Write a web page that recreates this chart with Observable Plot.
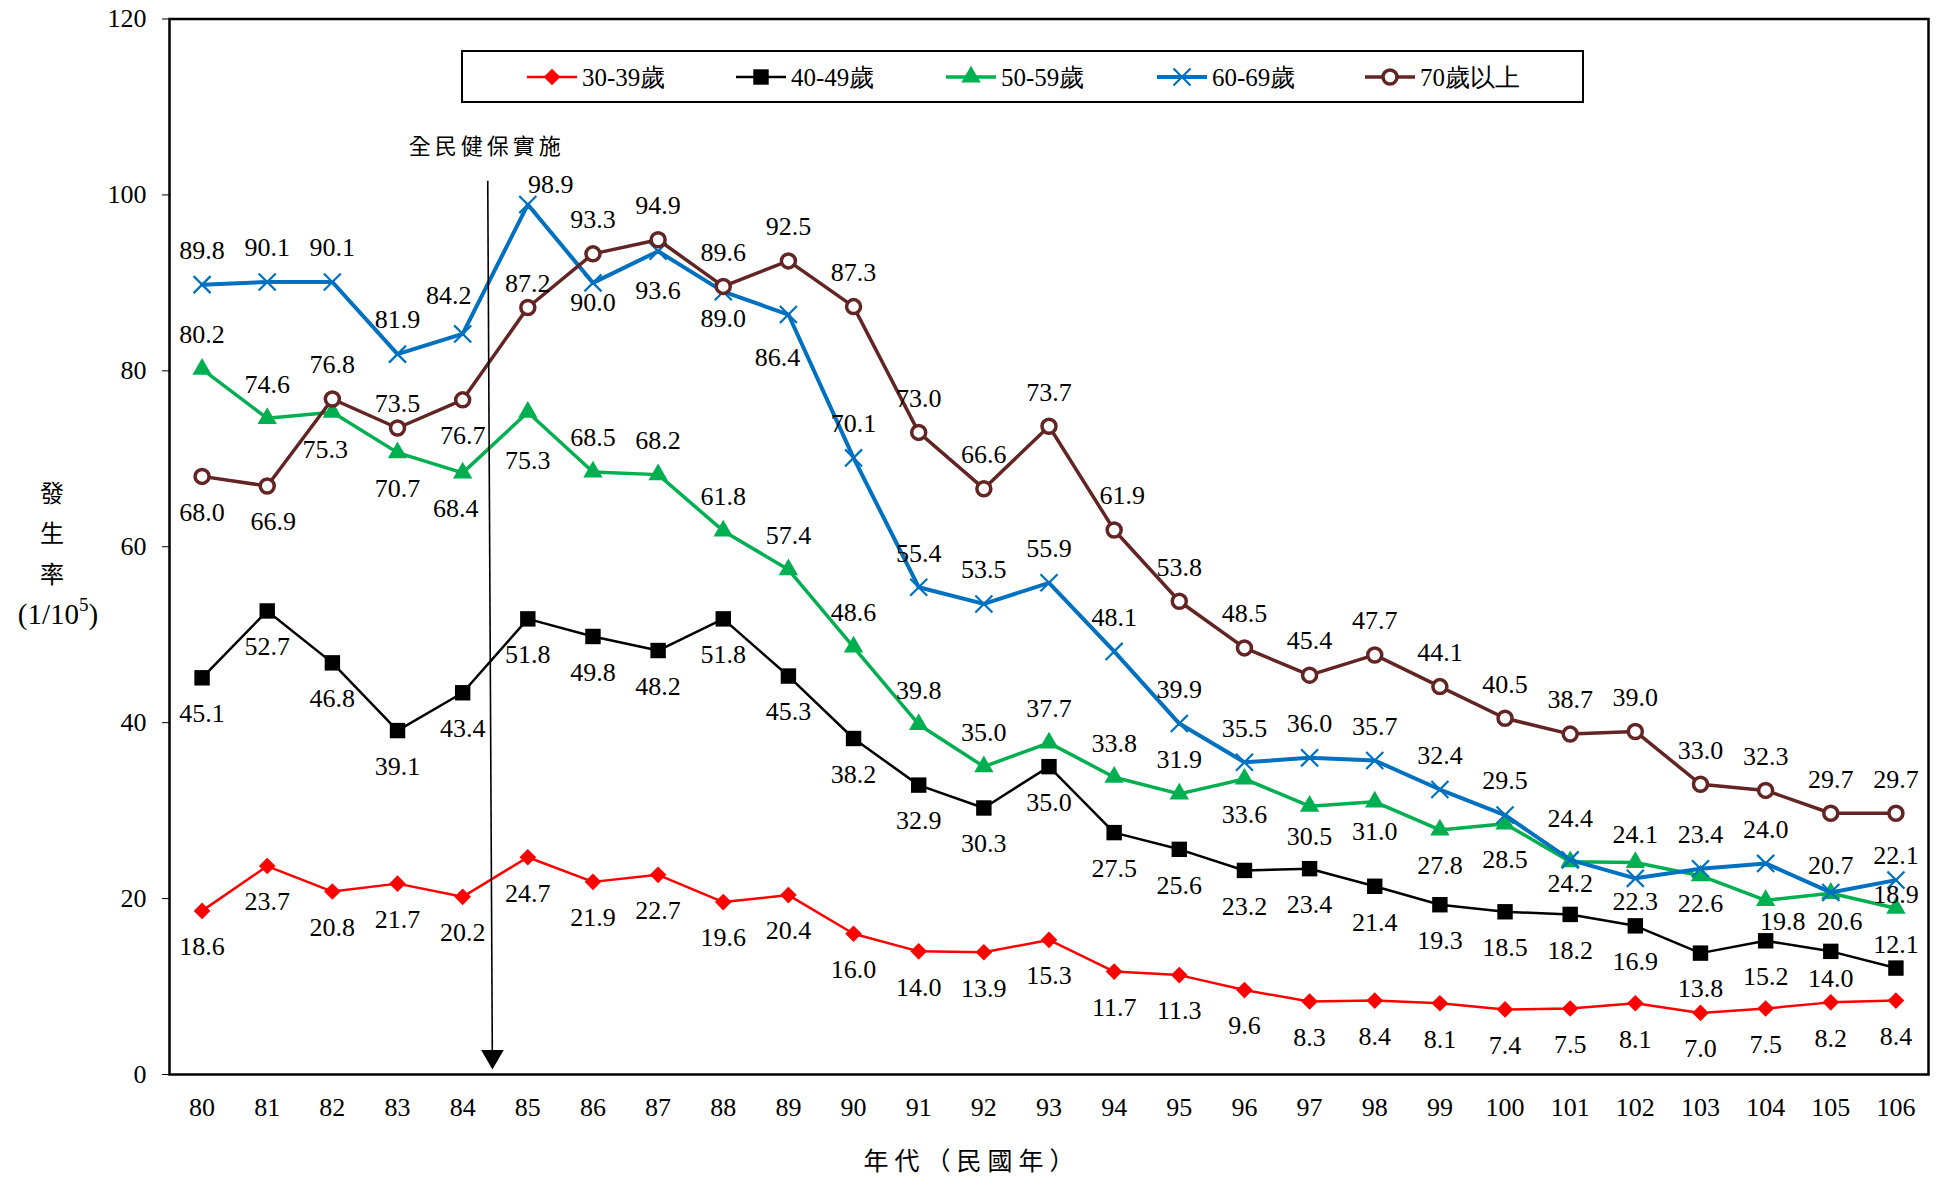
<!DOCTYPE html>
<html><head><meta charset="utf-8">
<script src="https://cdn.jsdelivr.net/npm/d3@7"></script>
<script src="https://cdn.jsdelivr.net/npm/@observablehq/plot@0.6"></script>
<style>
body{margin:0;background:#fff;}
#chart{position:relative;width:1944px;height:1181px;}
</style>
</head><body><div id="chart"></div>
<script>
// ---- data ----
const years = [80,81,82,83,84,85,86,87,88,89,90,91,92,93,94,95,96,97,98,99,100,101,102,103,104,105,106];
const yTicks = [0,20,40,60,80,100,120];
const seriesNames = ["30-39歲","40-49歲","50-59歲","60-69歲","70歲以上"];
const v30 = [18.6,23.7,20.8,21.7,20.2,24.7,21.9,22.7,19.6,20.4,16.0,14.0,13.9,15.3,11.7,11.3,9.6,8.3,8.4,8.1,7.4,7.5,8.1,7.0,7.5,8.2,8.4];
const v40 = [45.1,52.7,46.8,39.1,43.4,51.8,49.8,48.2,51.8,45.3,38.2,32.9,30.3,35.0,27.5,25.6,23.2,23.4,21.4,19.3,18.5,18.2,16.9,13.8,15.2,14.0,12.1];
const v50 = [80.2,74.6,75.3,70.7,68.4,75.3,68.5,68.2,61.8,57.4,48.6,39.8,35.0,37.7,33.8,31.9,33.6,30.5,31.0,27.8,28.5,24.2,24.1,22.6,19.8,20.6,18.9];
const v60 = [89.8,90.1,90.1,81.9,84.2,98.9,90.0,93.6,89.0,86.4,70.1,55.4,53.5,55.9,48.1,39.9,35.5,36.0,35.7,32.4,29.5,24.4,22.3,23.4,24.0,20.7,22.1];
const v70 = [68.0,66.9,76.8,73.5,76.7,87.2,93.3,94.9,89.6,92.5,87.3,73.0,66.6,73.7,61.9,53.8,48.5,45.4,47.7,44.1,40.5,38.7,39.0,33.0,32.3,29.7,29.7];
// label side: t = above the point, b = below
const side30 = "bbbbbbbbbbbbbbbbbbbbbbbbbbb";
const side40 = "bbbbbbbbbbbbbbbbbbbbbbbbbbt";
const side50 = "ttbbbbttttttttttbbbbbbtbbbt";
const side60 = "ttttttbbbbttttttttttttbtttt";
const side70 = "bbttbtttttttttttttttttttttt";
const annotationText = "全民健保實施";
const xTitle = "年代（民國年）";

// ---- styles ----
const colors = ["#FF0000","#000000","#00B050","#0070C0","#632523"];
const lineW = [2.5,2.5,3.5,4,3.5];
const symbols = ["diamond2","square","triangle","times","circle"];
const symR = [7.5,8.7,7.2,7.8,7];
const labelAbove = -34, labelBelow = 36;
// hand placement of crowded data labels (pixel nudges), keyed "series|year"
const labelNudge = {
  "60-69歲|85": [23,-20], "70歲以上|85": [0,-24], "60-69歲|84": [-14,-38],
  "50-59歲|82": [-7,37], "70歲以上|83": [0,-24], "50-59歲|84": [-7,36],
  "50-59歲|85": [0,48], "60-69歲|86": [0,20], "60-69歲|87": [0,39],
  "60-69歲|88": [0,27], "60-69歲|89": [-11,43], "70歲以上|81": [6,36],
  "70歲以上|94": [8,-34], "50-59歲|106": [0,-14], "60-69歲|106": [0,-24],
  "40-49歲|106": [0,-23], "50-59歲|104": [17,21], "50-59歲|105": [9,28],
  "60-69歲|101": [0,-41], "50-59歲|101": [0,22], "50-59歲|102": [0,-28],
  "60-69歲|102": [0,23], "40-49歲|105": [0,27], "60-69歲|105": [0,-27],
  "50-59歲|103": [0,28], "50-59歲|97": [0,30], "50-59歲|98": [0,30]
};

const allVals = [v30,v40,v50,v60,v70];
const allSides = [side30,side40,side50,side60,side70];
const series = seriesNames.map((name,i)=>({
  name, color: colors[i],
  rows: allVals[i].map((v,j)=>{
    const k = name+"|"+years[j];
    const nd = labelNudge[k] || [0, allSides[i][j]==="t" ? labelAbove : labelBelow];
    return {year: years[j], value: v, dx: nd[0], dy: nd[1]};
  })
}));

const serif = '"Liberation Serif","Times New Roman",serif';
const cjk = '"Noto Sans CJK TC","Noto Sans CJK SC",sans-serif';

const marks = [
  Plot.axisY({ticks: yTicks, tickSize: 7, tickPadding: 16, label: null, tickFormat: d=>String(d), fontSize: 26}),
  Plot.axisX({ticks: years, tickSize: 0, tickPadding: 23, label: null, tickFormat: d=>String(d), fontSize: 26}),
];
series.forEach((s,i)=>{
  marks.push(Plot.line(s.rows, {x:"year", y:"value", stroke: s.color, strokeWidth: lineW[i]}));
  const dotOpts = {x:"year", y:"value", symbol: symbols[i], r: symR[i]};
  if (symbols[i]==="times") Object.assign(dotOpts, {stroke: s.color, strokeWidth: 2.2, fill: "none"});
  else if (symbols[i]==="circle") Object.assign(dotOpts, {stroke: s.color, strokeWidth: 3.5, fill: "white"});
  else Object.assign(dotOpts, {fill: s.color, stroke: "none"});
  marks.push(Plot.dot(s.rows, dotOpts));
});
// data labels, grouped by their offset
const allRows = series.flatMap(s=>s.rows);
const groups = d3.groups(allRows, d=>d.dx+","+d.dy);
groups.forEach(([key, rows])=>{
  const [dx,dy] = key.split(",").map(Number);
  marks.push(Plot.text(rows, {x:"year", y:"value", text: d=>d.value.toFixed(1), dx, dy, fontSize:26, fill:"black"}));
});
// annotation arrow (NHI launch between years 84 and 85)
marks.push(Plot.link([{x1:84.385, y1:101.6, x2:84.455, y2:2.7}], {x1:"x1", y1:"y1", x2:"x2", y2:"y2", stroke:"black", strokeWidth:1.6}));
marks.push(Plot.dot([{x:84.457, y:2.05}], {x:"x", y:"y", symbol:"triangle", r:8.4, rotate:180, fill:"black", stroke:"none"}));
marks.push(Plot.text([{x:84.37, y:105.5, t:annotationText}], {x:"x", y:"y", text:"t", fontSize:22, fontFamily: cjk, fill:"black"}));
marks.push(Plot.frame({stroke:"black", strokeWidth:2.5}));

const chart = Plot.plot({
  width: 1944, height: 1181,
  marginLeft: 169, marginRight: 16, marginTop: 18.5, marginBottom: 107,
  x: {type:"linear", domain:[79.5,106.5]},
  y: {domain:[0,120]},
  style: {fontFamily: serif, fontSize: "26px", color: "black", background: "white"},
  marks
});
document.getElementById("chart").appendChild(chart);

const svg = d3.select(chart);
svg.selectAll("text").filter(function(){return this.textContent===annotationText;}).attr("letter-spacing","4px");

// ---- y-axis title ----
const yt = svg.append("g").attr("fill","black");
[["發",491],["生",531],["率",572]].forEach(([c,y])=>{
  yt.append("text").attr("x",52).attr("y",y).attr("text-anchor","middle").attr("dominant-baseline","central")
    .attr("font-family",cjk).attr("font-size",24).text(c);
});
const unit = yt.append("text").attr("x",58).attr("y",614).attr("text-anchor","middle").attr("dominant-baseline","central")
  .attr("font-family",serif).attr("font-size",29);
unit.append("tspan").text("(1/10");
unit.append("tspan").attr("dy",-10).attr("font-size",19).text("5");
unit.append("tspan").attr("dy",10).text(")");

// ---- x-axis title ----
svg.append("text").attr("x",972).attr("y",1159).attr("text-anchor","middle").attr("dominant-baseline","central")
  .attr("font-family",cjk).attr("font-size",25).attr("letter-spacing","6px").attr("fill","black").text(xTitle);

// ---- legend ----
const lg = svg.append("g");
lg.append("rect").attr("x",462).attr("y",51).attr("width",1121).attr("height",51).attr("fill","white").attr("stroke","black").attr("stroke-width",2);
const legendCx = [552,761,971,1182,1390];
const d3sym = {diamond2: d3.symbolDiamond2, square: d3.symbolSquare, triangle: d3.symbolTriangle, times: d3.symbolTimes, circle: d3.symbolCircle};
series.forEach((s,i)=>{
  const cx = legendCx[i], cy = 77;
  lg.append("line").attr("x1",cx-25).attr("x2",cx+25).attr("y1",cy).attr("y2",cy).attr("stroke",s.color).attr("stroke-width",lineW[i]);
  const p = lg.append("path").attr("transform",`translate(${cx},${cy})`)
    .attr("d", d3.symbol(d3sym[symbols[i]], Math.PI*symR[i]*symR[i])());
  if (symbols[i]==="times") p.attr("fill","none").attr("stroke",s.color).attr("stroke-width",2.2);
  else if (symbols[i]==="circle") p.attr("fill","white").attr("stroke",s.color).attr("stroke-width",3.5);
  else p.attr("fill",s.color);
  lg.append("text").attr("x",cx+30).attr("y",cy).attr("text-anchor","start").attr("dominant-baseline","central")
    .attr("font-family",serif).attr("font-size",25).attr("fill","black").text(s.name);
});
</script>
</body></html>
